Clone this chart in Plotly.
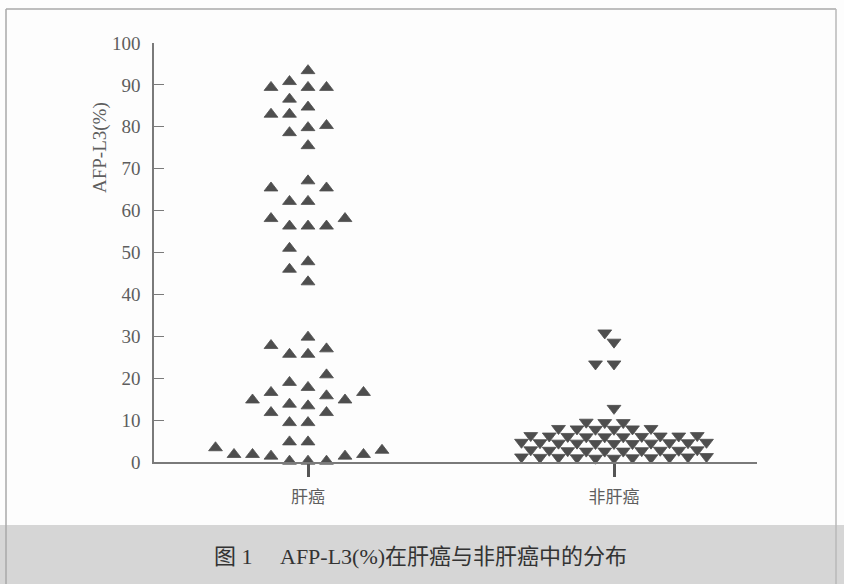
import plotly.graph_objects as go

# ---------------- data ----------------
categories = ["肝癌", "非肝癌"]

liver_cancer = [0.2, 0.2, 0.2, 1.4, 1.4, 1.8, 1.8, 1.8, 2.8, 3.4,
                4.8, 4.8, 9.4, 9.4, 11.8, 11.8, 13.4, 13.8, 14.8, 14.8,
                15.8, 16.6, 16.6, 17.8, 19.0, 20.8, 25.7, 25.7, 27.0, 27.8,
                29.8, 43.0, 46.0, 47.8, 51.0, 56.3, 56.3, 56.3, 58.1, 58.1,
                62.2, 62.2, 65.4, 65.4, 67.1, 75.5, 78.6, 79.8, 80.3, 83.0,
                83.0, 84.7, 86.6, 89.4, 89.4, 89.4, 90.8, 93.4]

non_liver_cancer = [0.9, 1.0, 1.1, 1.2, 1.0, 1.3, 0.9, 1.1, 1.2, 1.0, 1.1,
                    2.6, 2.8, 2.7, 2.9, 2.6, 2.8, 2.7, 2.9, 2.8, 2.6,
                    4.4, 4.6, 4.5, 4.7, 4.4, 4.6, 4.5, 4.7, 4.6, 4.4, 4.5,
                    6.0, 6.2, 6.1, 6.3, 6.0, 6.2, 6.1, 6.3, 6.2, 6.0,
                    7.8, 8.0, 7.9, 7.8, 8.0, 7.9,
                    9.4, 9.5, 9.4,
                    12.8, 23.4, 23.4, 28.6, 30.8]

y_tick_values = [0, 10, 20, 30, 40, 50, 60, 70, 80, 90, 100]
y_title = "AFP-L3(%)"
caption_fig = "图 1"
caption_text = "AFP-L3(%)在肝癌与非肝癌中的分布"

# ---------------- layout helpers ----------------
W, H = 844, 584
L, R, T, B = 154, 757, 43, 462          # plot area in pixels
X_RANGE = [1 - (308 - L) / 306.0, 2 + (R - 614) / 306.0]
SLOT = 18.5 / 306.0                      # horizontal spacing of one column


def px_x(p):
    return (p - L) / (R - L)


def px_y(p):
    return (B - p) / (B - T)


def beeswarm(values, step, h_same, h_adj):
    """Column-scatter layout: place each point in the nearest free column."""
    cand = [0]
    for k in range(1, 40):
        cand += [-k, k]
    order = sorted(range(len(values)), key=lambda i: values[i])
    placed, out = [], [0.0] * len(values)
    for i in order:
        v = values[i]
        chosen = 0.0
        for c in cand:
            x = c * step
            ok = True
            for px_, pv in placed:
                dx, dy = abs(px_ - x), abs(pv - v)
                if dx < 1e-9 and dy < h_same - 1e-9:
                    ok = False
                    break
                if 1e-9 < dx < 0.9 and dy < h_adj - 1e-9:
                    ok = False
                    break
            if ok:
                chosen = x
                break
        placed.append((chosen, v))
        out[i] = chosen
    return out


off_lc = beeswarm(liver_cancer, 1.0, 3.6, 0.0)
off_nlc = beeswarm(non_liver_cancer, 0.5, 3.0, 1.2)

x_lc = [1 + o * SLOT for o in off_lc]
x_nlc = [2 + o * SLOT for o in off_nlc]

MARK = "#4e4e4e"
AX = "#7a7a7a"
TXT = "#5e5e5e"

fig = go.Figure()
fig.add_trace(go.Scatter(
    x=x_lc, y=liver_cancer, mode="markers", cliponaxis=False,
    marker=dict(symbol="triangle-up", size=12, color=MARK,
                line=dict(color=MARK, width=0.8)),
    showlegend=False, hoverinfo="y"))
fig.add_trace(go.Scatter(
    x=x_nlc, y=non_liver_cancer, mode="markers", cliponaxis=False,
    marker=dict(symbol="triangle-down", size=12, color=MARK,
                line=dict(color=MARK, width=0.8)),
    showlegend=False, hoverinfo="y"))

shapes = [
    # grey caption band
    dict(type="rect", xref="paper", yref="paper",
         x0=px_x(0), x1=px_x(W), y0=px_y(H), y1=px_y(525),
         fillcolor="#d6d6d6", line=dict(width=0), layer="below"),
    # page frame
    dict(type="line", xref="paper", yref="paper",
         x0=px_x(6), x1=px_x(836), y0=px_y(9), y1=px_y(9),
         line=dict(color="#a8a8a8", width=1.5)),
    dict(type="line", xref="paper", yref="paper",
         x0=px_x(6), x1=px_x(6), y0=px_y(9), y1=px_y(H),
         line=dict(color="#a8a8a8", width=1.5)),
    dict(type="line", xref="paper", yref="paper",
         x0=px_x(836), x1=px_x(836), y0=px_y(9), y1=px_y(H),
         line=dict(color="#b8b8b8", width=1.5)),
]

annotations = [
    dict(text=y_title, xref="paper", yref="paper", x=px_x(100), y=px_y(148),
         textangle=-90, showarrow=False, xanchor="center", yanchor="middle",
         font=dict(family="Liberation Serif, serif", size=19, color=TXT)),
    dict(text=caption_fig, xref="paper", yref="paper", x=px_x(212), y=px_y(556),
         showarrow=False, xanchor="left", yanchor="middle",
         font=dict(family="Liberation Serif, Noto Sans CJK SC", size=22, color="#333333")),
    dict(text=caption_text, xref="paper", yref="paper", x=px_x(278), y=px_y(556),
         showarrow=False, xanchor="left", yanchor="middle",
         font=dict(family="Liberation Serif, Noto Sans CJK SC", size=22, color="#333333")),
]

fig.update_layout(
    width=W, height=H,
    margin=dict(l=L, r=W - R, t=T, b=H - B, pad=0),
    paper_bgcolor="#fdfdfd", plot_bgcolor="rgba(0,0,0,0)",
    shapes=shapes, annotations=annotations,
    xaxis=dict(range=X_RANGE, tickvals=[1, 2], ticktext=categories,
               showgrid=False, zeroline=False, showline=True,
               linecolor=AX, linewidth=1.5,
               ticks="outside", ticklen=13, tickwidth=3, tickcolor="#555555",
               ticklabelstandoff=6,
               tickfont=dict(family="Noto Sans CJK SC", size=17, color=TXT)),
    yaxis=dict(range=[0, 100], tickvals=y_tick_values,
               showgrid=False, zeroline=False, showline=True,
               linecolor=AX, linewidth=1.5,
               ticks="inside", ticklen=10, tickwidth=1.2, tickcolor=AX,
               ticklabelstandoff=8,
               tickfont=dict(family="Liberation Serif, serif", size=19, color=TXT)),
)

fig.write_html("out.html",
               config={"displayModeBar": False},
               post_script="document.body.style.margin='0';"
                           "document.body.style.overflow='hidden';")
